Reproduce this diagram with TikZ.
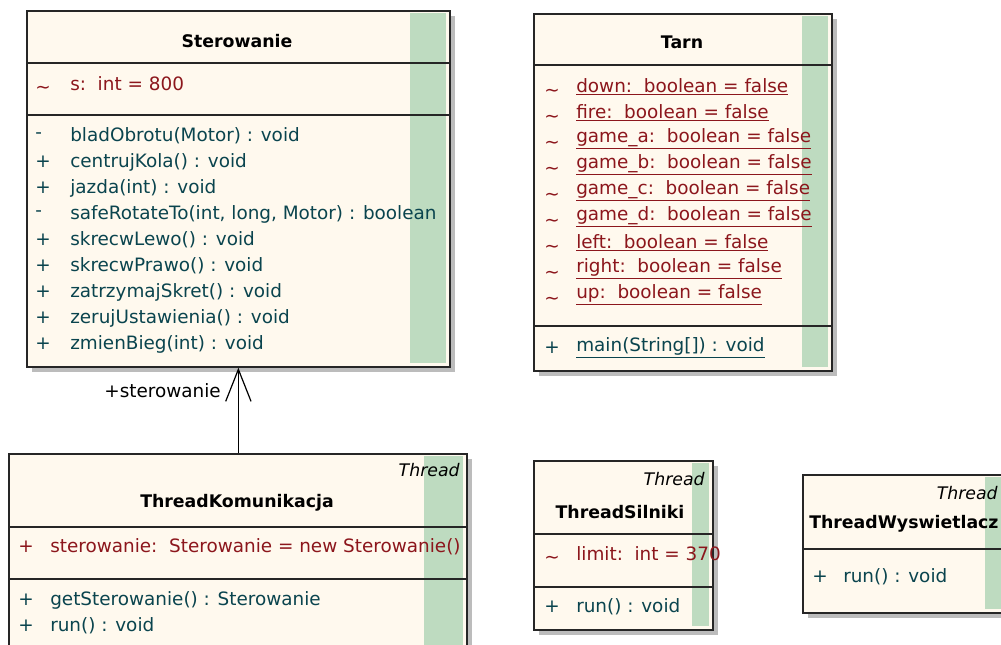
\documentclass[tikz,border=0pt]{standalone}
\usepackage{fontspec}
\setmainfont{DejaVu Sans}
\usetikzlibrary{arrows.meta,shadows}

\definecolor{boxfill}{RGB}{255,249,238}
\definecolor{stripe}{RGB}{190,219,192}
\definecolor{attrcol}{RGB}{140,22,28}
\definecolor{opcol}{RGB}{10,68,78}
\definecolor{shadowcol}{RGB}{188,188,188}

\newcommand{\pkgvis}{\raisebox{-0.9ex}{\textasciitilde}}

\tikzset{
  classbox/.style={draw=black!85, line width=1.3pt, fill=boxfill, inner sep=0pt,
    anchor=north west,
    drop shadow={shadow xshift=3.6pt, shadow yshift=-3.6pt, fill=shadowcol, opacity=1}},
  sepline/.style={draw=black!85, line width=1.2pt},
  txt/.style={anchor=west, inner sep=0pt, font=\fontsize{13.8}{16}\selectfont},
  attr/.style={txt, text=attrcol},
  oper/.style={txt, text=opcol},
  vis/.style={attr, anchor=base west},
  title/.style={anchor=center, inner sep=0pt, font=\fontsize{13}{15}\selectfont\bfseries},
  stereo/.style={anchor=east, inner sep=0pt, font=\fontsize{13}{15}\selectfont\itshape},
}

\begin{document}
\begin{tikzpicture}[x=0.75pt, y=-0.75pt]
\useasboundingbox (0,0) rectangle (1001,645);
\clip (0,0) rectangle (1001,645);

% ---------------- Sterowanie ----------------
\node[classbox, minimum width=317.25pt, minimum height=267pt] (ster) at (26,10) {};
\fill[stripe] (410,13) rectangle (446,363);
\draw[sepline] (ster.west |- 0,63) -- (ster.east |- 0,63);
\draw[sepline] (ster.west |- 0,115) -- (ster.east |- 0,115);
\node[title] (sterT) at (237,41) {Sterowanie};
\node[vis] (sterAv) at (35,84) {\pkgvis};
\node[attr] (sterA) at (70,84) {s:\ \ int = 800};
\foreach \v/\t [count=\i] in {
  -/{bladObrotu(Motor) : void},
  +/{centrujKola() : void},
  +/{jazda(int) : void},
  -/{safeRotateTo(int, long, Motor) : boolean},
  +/{skrecwLewo() : void},
  +/{skrecwPrawo() : void},
  +/{zatrzymajSkret() : void},
  +/{zerujUstawienia() : void},
  +/{zmienBieg(int) : void}}{
  \node[oper] (sterMv\i) at (35,110+26*\i) {\v};
  \node[oper] (sterM\i) at (70,110+26*\i) {\t};
}

% ---------------- Tarn ----------------
\node[classbox, minimum width=223.5pt, minimum height=267.75pt] (tarn) at (533,13) {};
\fill[stripe] (802,16) rectangle (828,367);
\draw[sepline] (tarn.west |- 0,65) -- (tarn.east |- 0,65);
\draw[sepline] (tarn.west |- 0,326) -- (tarn.east |- 0,326);
\node[title] (tarnT) at (682,42) {Tarn};
\foreach \t [count=\i] in {
  {down:\ \ boolean = false},
  {fire:\ \ boolean = false},
  {game\_a:\ \ boolean = false},
  {game\_b:\ \ boolean = false},
  {game\_c:\ \ boolean = false},
  {game\_d:\ \ boolean = false},
  {left:\ \ boolean = false},
  {right:\ \ boolean = false},
  {up:\ \ boolean = false}}{
  \node[vis] (tarnAv\i) at (544,61+26*\i) {\pkgvis};
  \node[attr] (tarnA\i) at (576,61+26*\i) {\underline{\t}};
}
\node[oper] (tarnMv) at (544,348) {+};
\node[oper] (tarnM) at (576,348) {\underline{main(String[]) : void}};

% ---------------- ThreadKomunikacja ----------------
\node[classbox, minimum width=343.5pt, minimum height=185pt] (tk) at (8,453) {};
\fill[stripe] (424,456) rectangle (463,660);
\draw[sepline] (tk.west |- 0,527) -- (tk.east |- 0,527);
\draw[sepline] (tk.west |- 0,579) -- (tk.east |- 0,579);
\node[stereo] (tkS) at (460,470) {Thread};
\node[title] (tkT) at (237,503) {ThreadKomunikacja};
\node[attr] (tkAv) at (18,547) {+};
\node[attr] (tkA) at (50,547) {sterowanie:\ \ Sterowanie = new Sterowanie()};
\node[oper] (tkMv1) at (18,600) {+};
\node[oper] (tkM1) at (50,600) {getSterowanie() : Sterowanie};
\node[oper] (tkMv2) at (18,626) {+};
\node[oper] (tkM2) at (50,626) {run() : void};

% ---------------- ThreadSilniki ----------------
\node[classbox, minimum width=134.25pt, minimum height=126.75pt] (ts) at (533,460) {};
\fill[stripe] (692,463) rectangle (709,626);
\draw[sepline] (ts.west |- 0,534) -- (ts.east |- 0,534);
\draw[sepline] (ts.west |- 0,587) -- (ts.east |- 0,587);
\node[stereo] (tsS) at (705,479) {Thread};
\node[title] (tsT) at (620,512) {ThreadSilniki};
\node[vis] (tsAv) at (544,554) {\pkgvis};
\node[attr] (tsA) at (576,554) {limit:\ \ int = 370};
\node[oper] (tsMv) at (544,607) {+};
\node[oper] (tsM) at (576,607) {run() : void};

% ---------------- ThreadWyswietlacz ----------------
\node[classbox, minimum width=172.5pt, minimum height=103.5pt] (tw) at (802,474) {};
\fill[stripe] (985,477) rectangle (1040,609);
\draw[sepline] (tw.west |- 0,549) -- (tw.east |- 0,549);
\node[stereo] (twS) at (998,493) {Thread};
\node[title, anchor=west] (twT) at (809,524) {ThreadWyswietlacz};
\node[oper] (twMv) at (812,577) {+};
\node[oper] (twM) at (843,577) {run() : void};

% ---------------- association ----------------
\draw[line width=0.9pt, -{Straight Barb[length=24pt, width=19pt, line width=0.9pt]}]
  (tk.north -| ster.south) -- (ster.south);
\node[txt, anchor=east] (lbl) at (221,391) {+sterowanie};

\end{tikzpicture}
\end{document}
